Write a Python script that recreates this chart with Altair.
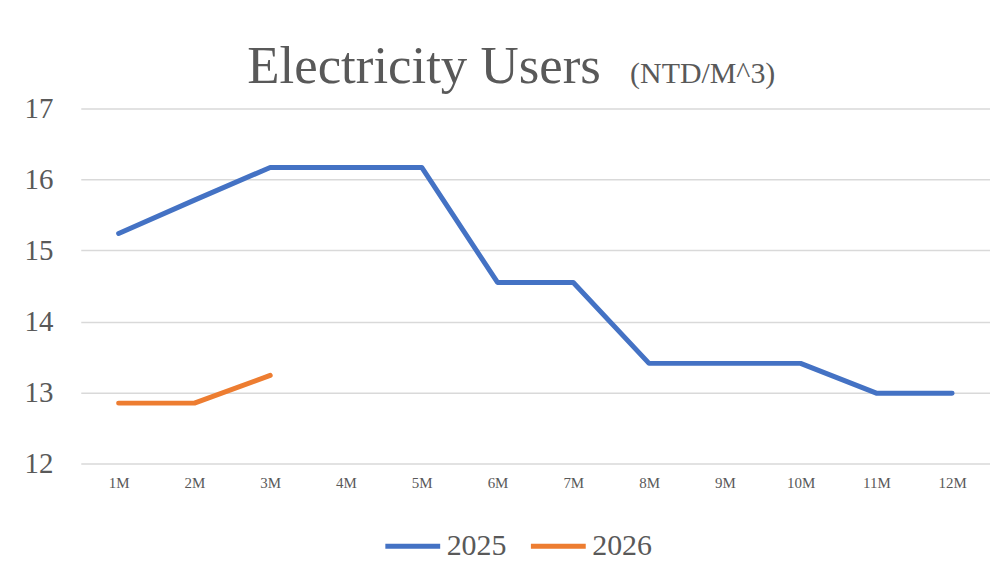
import altair as alt
import pandas as pd

months = ["1M", "2M", "3M", "4M", "5M", "6M", "7M", "8M", "9M", "10M", "11M", "12M"]
v2025 = [15.24, 15.71, 16.17, 16.17, 16.17, 14.55, 14.55, 13.41, 13.41, 13.41, 12.99, 12.99]
v2026 = [12.85, 12.85, 13.24]
series = ["2025", "2026"]
colors = ["#4472C4", "#ED7D31"]
y_ticks = [12, 13, 14, 15, 16, 17]
title_main = "Electricity Users"
title_unit = "(NTD/M^3)"

rows = []
for m, v in zip(months, v2025):
    rows.append({"month": m, "value": v, "year": "2025"})
for m, v in zip(months, v2026):
    rows.append({"month": m, "value": v, "year": "2026"})
df = pd.DataFrame(rows)

FONT = "Liberation Serif"
GREY = "#595959"

lines = alt.Chart(df).mark_line(strokeWidth=5, strokeCap="round", strokeJoin="round").encode(
    x=alt.X("month:O", sort=months,
            scale=alt.Scale(type="point", padding=0.5, domain=months),
            axis=alt.Axis(title=None, labelAngle=0, labelFontSize=15, labelFont=FONT,
                          labelColor=GREY, domain=False, ticks=False, grid=False,
                          labelPadding=12)),
    y=alt.Y("value:Q", scale=alt.Scale(domain=[12, 17], zero=False, nice=False),
            axis=alt.Axis(title=None, values=y_ticks, labelFontSize=29, labelFont=FONT,
                          labelColor=GREY, domain=False, ticks=False, grid=True,
                          gridColor="#d9d9d9", gridWidth=1.5, labelPadding=28)),
    color=alt.Color("year:N", scale=alt.Scale(domain=series, range=colors),
                    legend=alt.Legend(title=None, orient="none", legendX=303, legendY=409,
                                      direction="horizontal", symbolType="stroke",
                                      symbolSize=3025, symbolStrokeWidth=5,
                                      labelFontSize=30, labelFont=FONT, labelColor=GREY,
                                      columnPadding=14, labelOffset=4, padding=0,
                                      labelLimit=0)),
)

title_df = pd.DataFrame({"t": [title_main]})
unit_df = pd.DataFrame({"t": [title_unit]})

t1 = alt.Chart(title_df).mark_text(font=FONT, fontSize=53, color=GREY, align="left",
                                   baseline="alphabetic").encode(
    text="t:N", x=alt.value(167), y=alt.value(-26))
t2 = alt.Chart(unit_df).mark_text(font=FONT, fontSize=30, color=GREY, align="left",
                                  baseline="alphabetic").encode(
    text="t:N", x=alt.value(551), y=alt.value(-26))

chart = alt.layer(lines, t1, t2).properties(
    width=912, height=356,
    autosize=alt.AutoSizeParams(type="none"),
    padding={"left": 73, "top": 100, "right": 0, "bottom": 102},
    background="white",
).configure(font=FONT).configure_view(stroke=None).configure_axis(
    labelFont=FONT
).configure_legend(labelFont=FONT)

chart.save("out.html", embed_options={"renderer": "svg", "actions": False})
